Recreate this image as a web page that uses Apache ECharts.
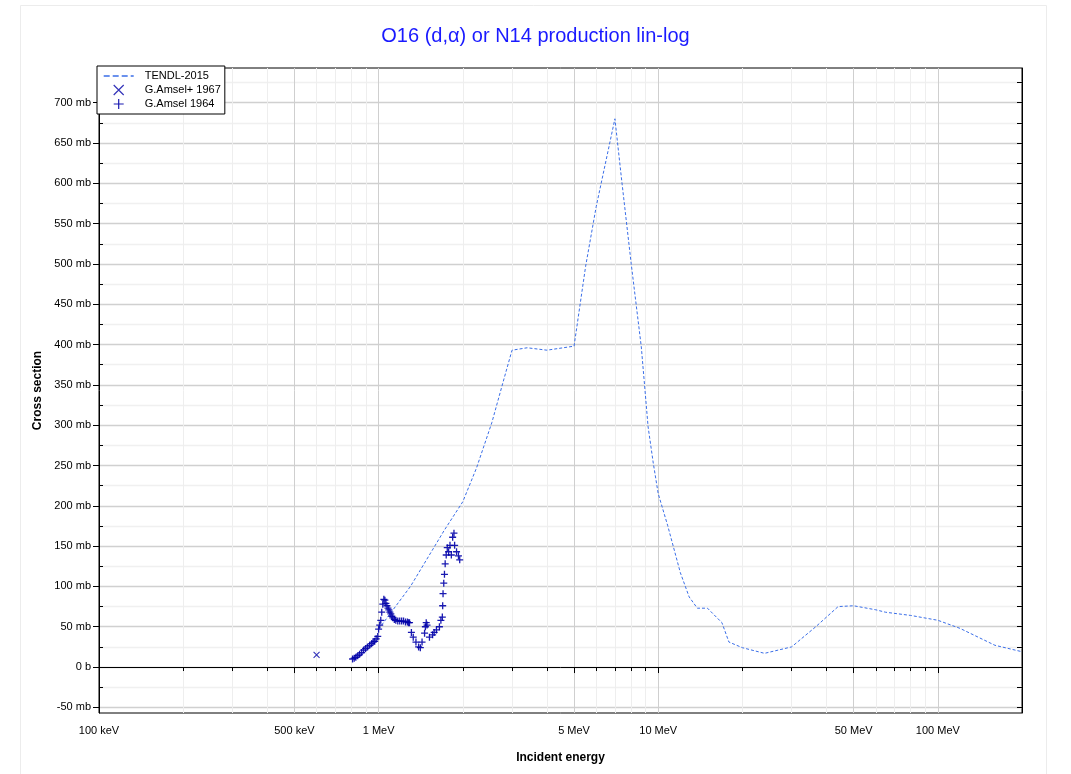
<!DOCTYPE html>
<html>
	<head>
		<meta charset="UTF-8">
		<title>O16 (d,α) or N14 production lin-log</title>
		<style>
			html, body { margin: 0; padding: 0; background: #fff; }
			#main { width: 1071px; height: 774px; }
		</style>
	</head>
	<body>
		<div id="main"></div>
	</body>
	<script src="https://cdn.jsdelivr.net/npm/echarts@6.0.0/dist/echarts.min.js"></script>
<script>
	// TENDL-2015 evaluation (energy in MeV, cross section in mb)
	var tendlE  = [1.0, 1.3, 1.72, 2.0, 2.24, 2.54, 2.79, 3.0, 3.4, 4.0, 5.0, 5.5, 6.0, 7.0, 7.4, 8.0, 8.7, 9.2, 9.6, 10.0, 10.8, 12.0, 12.9, 13.8, 15.0, 16.9, 17.9, 20, 24, 30, 36.6, 44, 50, 60, 65, 80, 100, 120, 160, 200];
	var tendlXs = [47, 100, 170, 205, 247, 303, 354, 393, 396, 393, 398, 497, 571, 680, 604, 501, 397, 298, 253, 215, 176, 117, 87, 73, 73, 55, 31, 24, 17, 25, 50, 75, 76, 71, 68, 64, 58, 48, 27, 19];

	// G.Amsel 1964
	var amsel64E  = [0.807, 0.818, 0.829, 0.842, 0.855, 0.870, 0.884, 0.898, 0.913, 0.929, 0.944, 0.956, 0.968, 0.980, 0.993, 1.000, 1.009, 1.018, 1.026, 1.035, 1.044, 1.053, 1.062, 1.071, 1.080, 1.088, 1.097, 1.106, 1.115, 1.124, 1.138, 1.152, 1.171, 1.190, 1.209, 1.228, 1.248, 1.268, 1.280, 1.290, 1.31, 1.33, 1.36, 1.39, 1.41, 1.43, 1.46, 1.47, 1.48, 1.49, 1.52, 1.56, 1.58, 1.61, 1.65, 1.67, 1.69, 1.695, 1.70, 1.71, 1.72, 1.73, 1.745, 1.76, 1.78, 1.80, 1.82, 1.84, 1.86, 1.87, 1.90, 1.93, 1.95];
	var amsel64Xs = [10, 11, 12, 14, 16, 18, 21, 23, 25, 27, 29, 31, 32, 35, 38, 47, 52, 58, 68, 78, 84, 83, 79, 76, 73, 71, 68, 66, 63, 61, 59, 58, 57, 57, 57, 57, 56, 56, 55, 55, 43, 37, 31, 25, 24, 31, 42, 50, 55, 52, 37, 40, 43, 46, 50, 58, 62, 76, 91, 104, 115, 128, 139, 148, 143, 151, 139, 161, 166, 151, 143, 138, 133];

	// G.Amsel+ 1967
	var amsel67E  = [0.6];
	var amsel67Xs = [15];

	// axis ticks
	var xMajorTicks = [0.1, 0.5, 1, 5, 10, 50, 100];
	var xMinorTicks = [0.2, 0.3, 0.4, 0.6, 0.7, 0.8, 0.9, 2, 3, 4, 6, 7, 8, 9, 20, 30, 40, 60, 70, 80, 90, 200];
	var yMajorTicks = [-50, 0, 50, 100, 150, 200, 250, 300, 350, 400, 450, 500, 550, 600, 650, 700];
	var yMinorTicks = [-25, 25, 75, 125, 175, 225, 275, 325, 375, 425, 475, 525, 575, 625, 675, 725];

	function pairs(xs, ys) {
		return xs.map(function (x, i) { return [x, ys[i]]; });
	}

	var myChart = echarts.init(document.getElementById('main'));

	var font = '"Liberation Sans", Arial, sans-serif';
	var xMin = 0.1, xMax = 200, yMin = -57, yMax = 743;
	var markColor = '#0000a8';
	var tendlColor = '#3a6ee8';

	myChart.setOption({
		backgroundColor: '#fff',
		textStyle: { fontFamily: font },
		animation: false,
		title: {
			text: 'O16 (d,α) or N14 production lin-log',
			left: 'center',
			top: 21,
			textStyle: { color: '#1a1aff', fontSize: 20, fontWeight: 'normal', fontFamily: font }
		},
		graphic: [{
			type: 'rect',
			shape: { x: 20.5, y: 5.5, width: 1026, height: 800 },
			style: { fill: 'none', stroke: '#ececec', lineWidth: 1 },
			silent: true,
			z: -10
		}],
		legend: {
			orient: 'vertical',
			left: 97,
			top: 66,
			padding: [4, 4, 4, 6],
			itemGap: 2,
			itemWidth: 30,
			itemHeight: 10,
			backgroundColor: '#fff',
			borderColor: '#000',
			borderWidth: 1,
			textStyle: { color: '#000', fontSize: 11, lineHeight: 12, fontFamily: font, padding: [0, 0, 0, 6] },
			data: [
				{
					name: 'TENDL-2015',
					itemStyle: { color: 'rgba(0,0,0,0)', borderColor: 'rgba(0,0,0,0)', borderWidth: 0 },
					lineStyle: { color: tendlColor, width: 1.4, type: [6, 3] }
				},
				{ name: 'G.Amsel+ 1967', itemStyle: { borderWidth: 1.2 } },
				{ name: 'G.Amsel 1964', itemStyle: { borderWidth: 1.2 } }
			]
		},
		grid: {
			left: 99,
			right: 49,
			top: 68,
			bottom: 61,
			show: true,
			borderColor: '#000',
			borderWidth: 1,
			backgroundColor: '#fff'
		},
		xAxis: [{
			type: 'log',
			logBase: 10,
			min: xMin,
			max: xMax,
			name: 'Incident energy',
			nameLocation: 'middle',
			nameGap: 39,
			nameTextStyle: { color: '#000', fontSize: 12, fontWeight: 'bold', fontFamily: font },
			axisLine: { show: true, lineStyle: { color: '#000', width: 1 } },
			axisTick: { show: true, length: 6, customValues: xMajorTicks, lineStyle: { color: '#000' } },
			axisLabel: {
				customValues: xMajorTicks,
				color: '#000',
				fontSize: 11,
				margin: 12,
				formatter: function (v) {
					return v < 1 ? Math.round(v * 1000) + ' keV' : v + ' MeV';
				}
			},
			splitLine: { show: true, lineStyle: { color: '#cfcfcf', width: 1 } }
		}, {
			type: 'log',
			logBase: 10,
			min: xMin,
			max: xMax,
			position: 'bottom',
			axisLine: { show: false },
			axisTick: { show: true, length: 4, customValues: xMinorTicks, lineStyle: { color: '#000' } },
			axisLabel: { show: false, customValues: xMinorTicks },
			splitLine: { show: true, lineStyle: { color: '#eeeeee', width: 1 } }
		}],
		yAxis: [{
			type: 'value',
			min: yMin,
			max: yMax,
			name: 'Cross section',
			nameLocation: 'middle',
			nameGap: 53,
			nameTextStyle: { color: '#000', fontSize: 12, fontWeight: 'bold', fontFamily: font },
			axisLine: { show: true, lineStyle: { color: '#000', width: 1 } },
			axisTick: { show: true, length: 6, customValues: yMajorTicks, lineStyle: { color: '#000' } },
			axisLabel: {
				customValues: yMajorTicks,
				color: '#000',
				fontSize: 11,
				margin: 8,
				formatter: function (v) { return v === 0 ? '0 b' : v + ' mb'; }
			},
			splitLine: { show: true, lineStyle: { color: '#d0d0d0', width: 1.3 } }
		}, {
			type: 'value',
			min: yMin,
			max: yMax,
			position: 'left',
			axisLine: { show: false },
			axisTick: { show: true, inside: true, length: 4, customValues: yMinorTicks, lineStyle: { color: '#000' } },
			axisLabel: { show: false, customValues: yMinorTicks },
			splitLine: { show: true, lineStyle: { color: '#f0f0f0', width: 1.3 } }
		}, {
			type: 'value',
			min: yMin,
			max: yMax,
			position: 'right',
			axisLine: { show: true, lineStyle: { color: '#000', width: 1 } },
			axisTick: { show: true, inside: true, length: 5, customValues: yMajorTicks.concat(yMinorTicks), lineStyle: { color: '#000' } },
			axisLabel: { show: false, customValues: yMajorTicks },
			splitLine: { show: false }
		}],
		series: [{
			name: 'TENDL-2015',
			type: 'line',
			xAxisIndex: 0,
			yAxisIndex: 0,
			data: pairs(tendlE, tendlXs),
			symbol: 'none',
			smooth: false,
			lineStyle: { color: tendlColor, width: 1, type: [3, 2] },
			itemStyle: { color: tendlColor },
			z: 3
		}, {
			name: 'G.Amsel+ 1967',
			type: 'scatter',
			xAxisIndex: 0,
			yAxisIndex: 0,
			data: pairs(amsel67E, amsel67Xs),
			symbol: 'path://M0,0L10,10M10,0L0,10',
			symbolSize: 6,
			symbolKeepAspect: true,
			itemStyle: { color: 'rgba(0,0,0,0)', borderColor: markColor, borderWidth: 1.1 },
			z: 4
		}, {
			name: 'G.Amsel 1964',
			type: 'scatter',
			xAxisIndex: 0,
			yAxisIndex: 0,
			data: pairs(amsel64E, amsel64Xs),
			symbol: 'path://M5,0L5,10M0,5L10,5',
			symbolSize: 7,
			symbolKeepAspect: true,
			itemStyle: { color: 'rgba(0,0,0,0)', borderColor: markColor, borderWidth: 1.3, opacity: 0.9 },
			z: 4
		}]
	});
</script>
</html>
